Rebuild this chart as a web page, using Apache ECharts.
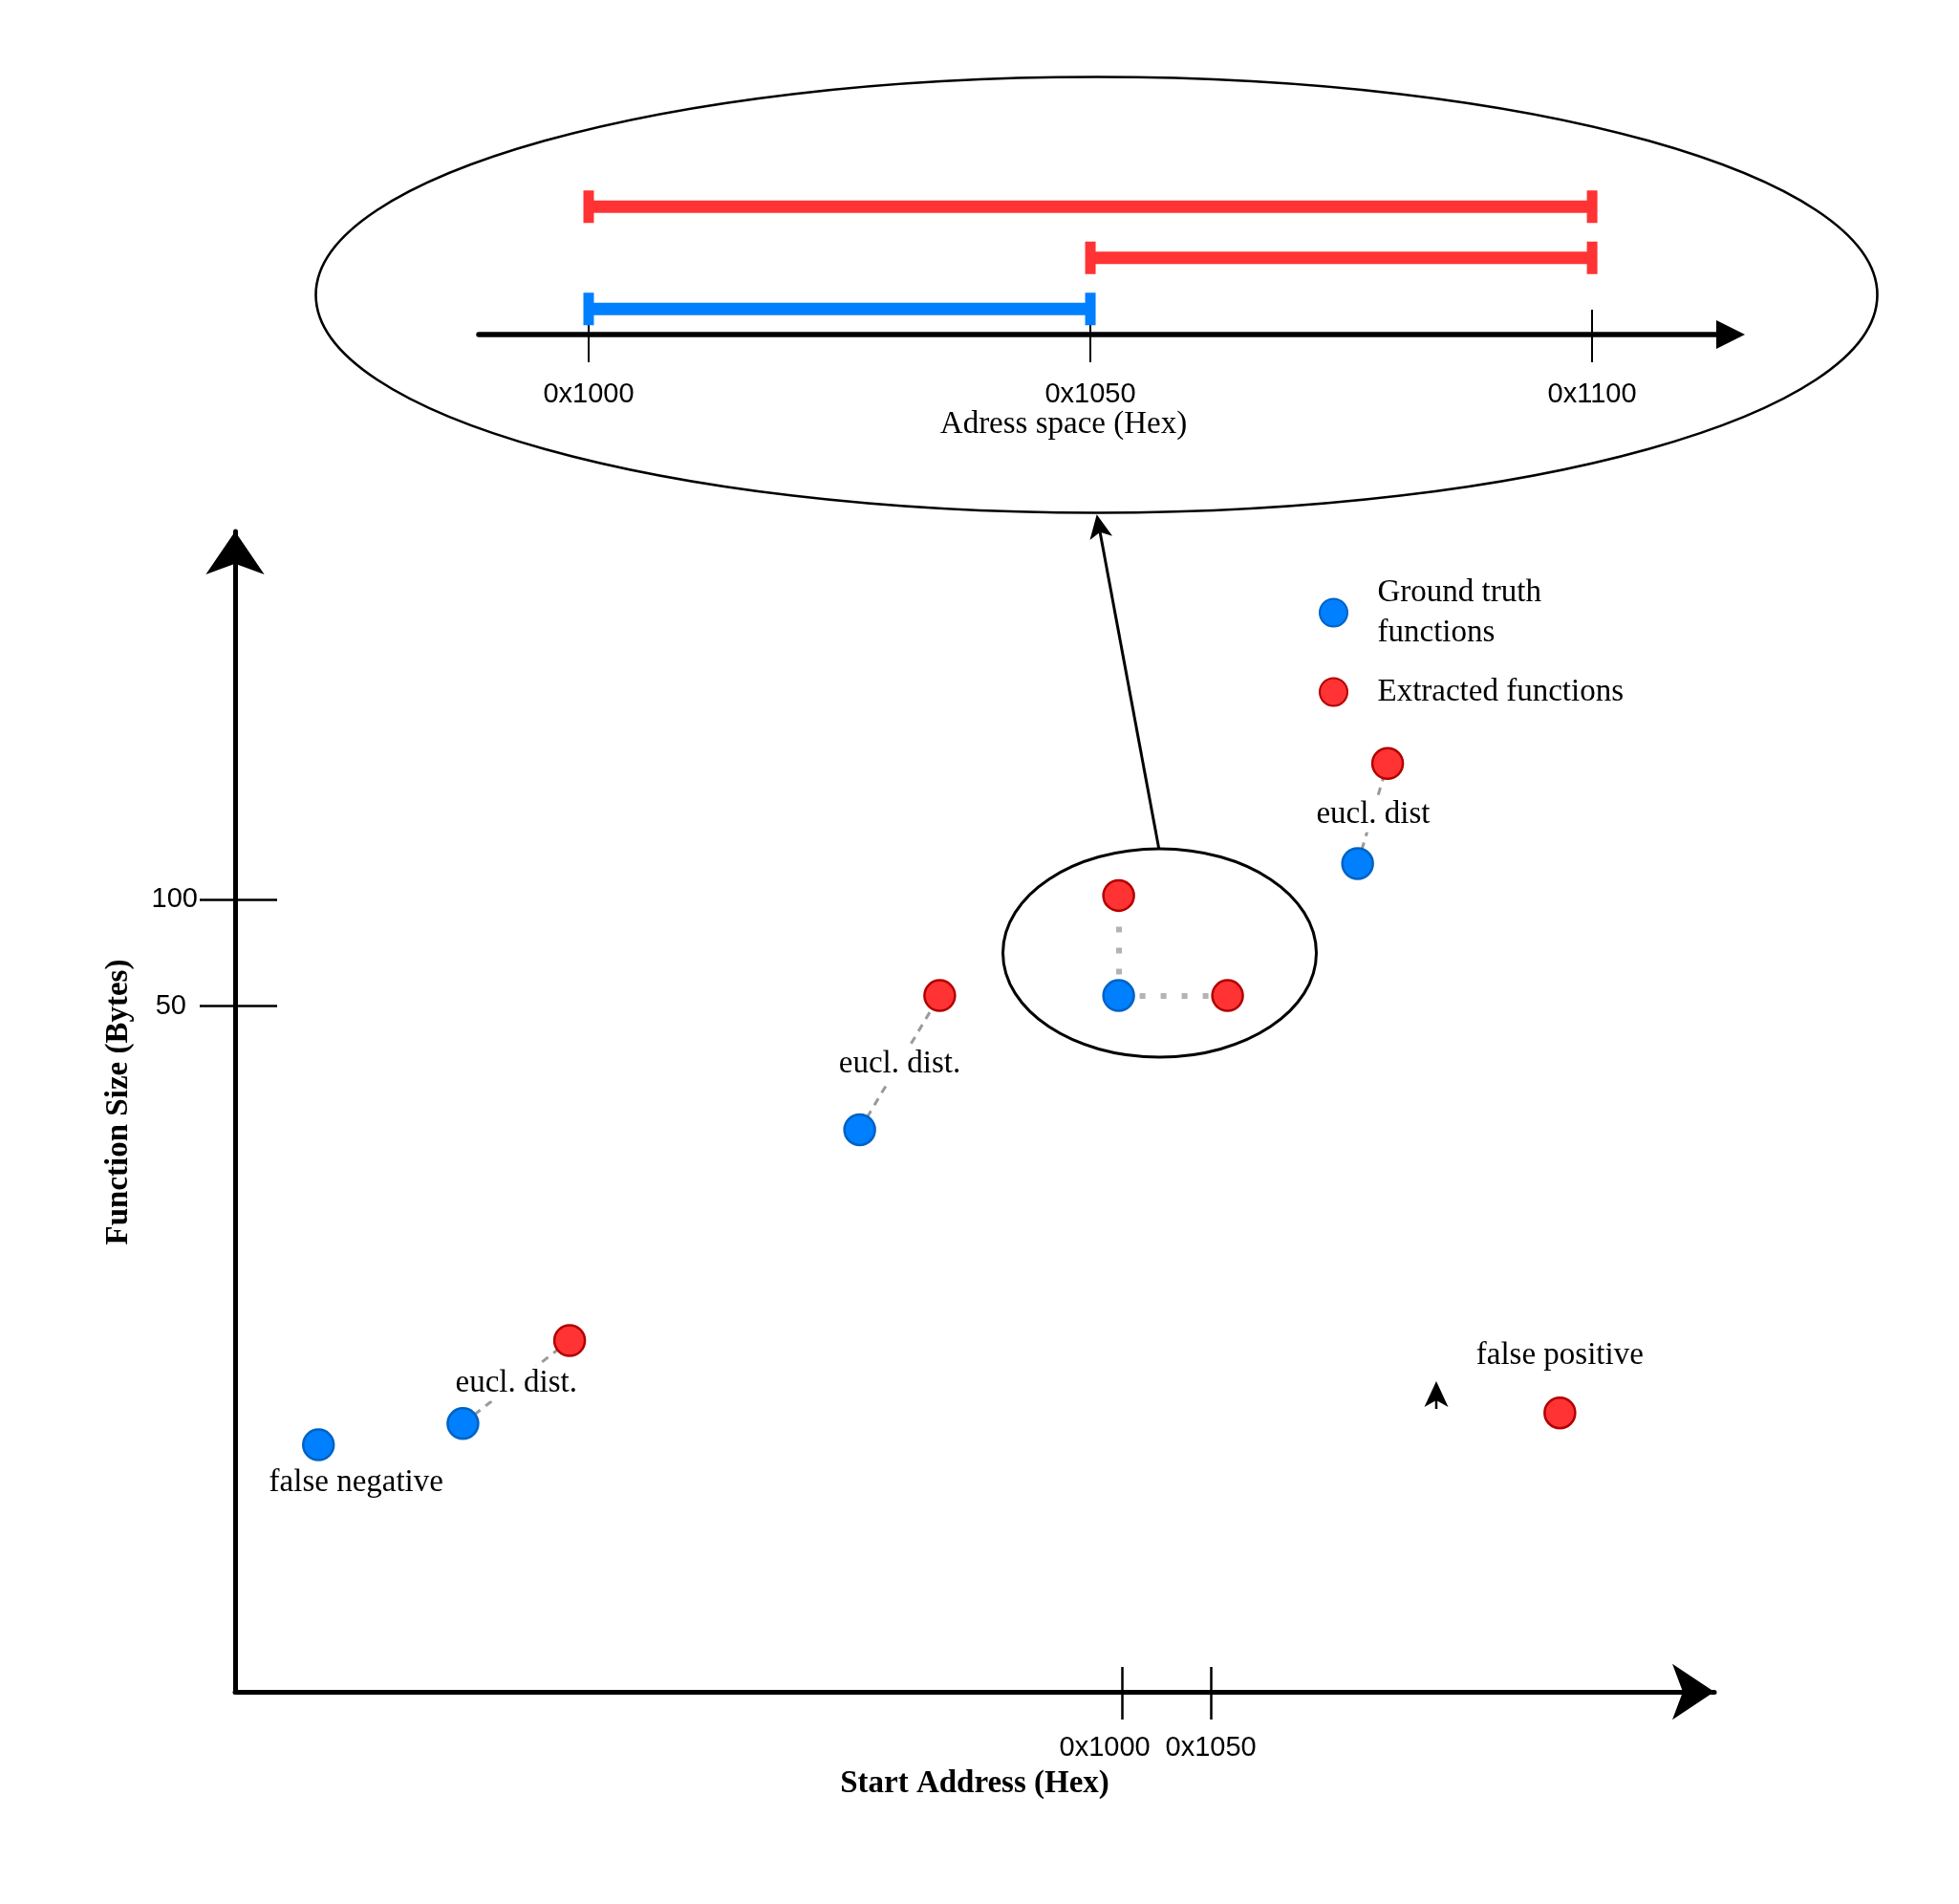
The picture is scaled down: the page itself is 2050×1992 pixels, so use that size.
<!DOCTYPE html>
<html>
<head>
<meta charset="utf-8">
<title>Function matching sketch</title>
<script src="https://cdn.jsdelivr.net/npm/echarts@6/dist/echarts.min.js"></script>
<style>
  html, body { margin: 0; padding: 0; background: #fff; }
  #chart { width: 2050px; height: 1992px; }
</style>
</head>
<body>
<div id="chart"></div>
<script>
// main plot: start address (hex read as decimal) vs function size (bytes)
const xTickValues = [4096, 4176];
const xTickLabels = ['0x1000', '0x1050'];
const yTickValues = [50, 100];
const yTickLabels = ['50', '100'];

const truthStart = [3373, 3503, 3860, 4093, 4308];
const truthSize = [-156, -146, -8, 55, 117];
const extractedStart = [3599, 3932, 4093, 4191, 4335, 4490];
const extractedSize = [-107, 55, 102, 55, 164, -141];

// [truth index, extracted index, line kind]
const distPairs = [[1, 0, 'dashed'], [2, 1, 'dashed'], [3, 2, 'dotted'], [3, 3, 'dotted'], [4, 4, 'dashed']];

const noteText = ['false negative', 'eucl. dist.', 'eucl. dist.', 'eucl. dist', 'false positive'];
const noteX = [3407, 3551, 3896, 4322, 4490];
const noteY = [-174, -127, 23, 140, -114];

// zoomed inset: address ranges on the address space axis
const spaceLabels = ['0x1000', '0x1050', '0x1100'];
const truthRanges = [['0x1000', '0x1050']];
const truthRows = [1];
const extractedRanges = [['0x1050', '0x1100'], ['0x1000', '0x1100']];
const extractedRows = [2, 3];

const BLUE = '#007fff', BLUE_EDGE = '#0062c4';
const RED = '#ff3333', RED_EDGE = '#b20000';
const SERIF = 'Liberation Serif';
const SANS = 'Liberation Sans';

const chart = echarts.init(document.getElementById('chart'));

function rangeData(ranges, rows) {
    return ranges.map((r, i) => [spaceLabels.indexOf(r[0]), spaceLabels.indexOf(r[1]), rows[i]]);
}

function renderRange(params, api) {
    const a = api.coord([api.value(0), api.value(2)]);
    const b = api.coord([api.value(1), api.value(2)]);
    const color = api.visual('color');
    return {
        type: 'group',
        children: [
            { type: 'rect', shape: { x: a[0], y: a[1] - 6.5, width: b[0] - a[0], height: 13 }, style: { fill: color } },
            { type: 'rect', shape: { x: a[0] - 5.5, y: a[1] - 17, width: 11, height: 34 }, style: { fill: color } },
            { type: 'rect', shape: { x: b[0] - 5.5, y: b[1] - 17, width: 11, height: 34 }, style: { fill: color } }
        ]
    };
}

const distLines = distPairs.map(p => ({
    coords: [[truthStart[p[0]], truthSize[p[0]]], [extractedStart[p[1]], extractedSize[p[1]]]],
    lineStyle: p[2] === 'dotted'
        ? { color: '#b3b3b3', width: 6, type: [6, 16], cap: 'butt', opacity: 1 }
        : { color: '#9a9a9a', width: 3, type: [8, 7], opacity: 1 }
}));

// connector arrow from the small ellipse up to the inset
const from = [1212.7, 887.7], tip = [1147.7, 538.3];
const len = Math.hypot(tip[0] - from[0], tip[1] - from[1]);
const d = [(tip[0] - from[0]) / len, (tip[1] - from[1]) / len];
const n = [-d[1], d[0]];
const L = 25, W = 12;
const head = [
    tip,
    [tip[0] - d[0] * L + n[0] * W, tip[1] - d[1] * L + n[1] * W],
    [tip[0] - d[0] * L * 0.75, tip[1] - d[1] * L * 0.75],
    [tip[0] - d[0] * L - n[0] * W, tip[1] - d[1] * L - n[1] * W]
];

const tickFont = { fontFamily: SANS, fontSize: 29, color: '#000' };

const option = {
    animation: false,
    backgroundColor: '#fff',
    grid: [
        { left: 246, right: 256, top: 556, bottom: 222, outerBoundsMode: 'none' },
        { left: 501, right: 239, top: 189.5, bottom: 1642, outerBoundsMode: 'none' }
    ],
    legend: {
        data: ['Ground truth functions', 'Extracted functions'],
        orient: 'vertical',
        left: 1380,
        top: 599,
        padding: 0,
        itemGap: 20,
        itemWidth: 82,
        itemHeight: 29,
        icon: 'circle',
        selectedMode: false,
        formatter: name => name === 'Ground truth functions' ? 'Ground truth\nfunctions' : name,
        textStyle: { fontFamily: SERIF, fontSize: 33, lineHeight: 42, color: '#000' }
    },
    xAxis: [
        {
            type: 'value', gridIndex: 0, min: 3298, max: 4629, position: 'bottom',
            name: 'Start Address (Hex)', nameLocation: 'middle', nameGap: 80,
            nameTextStyle: { fontFamily: SERIF, fontSize: 33, fontWeight: 'bold', color: '#000' },
            axisLine: { onZero: false, lineStyle: { color: '#000', width: 5 }, symbol: ['none', 'arrow'], symbolSize: [44, 44] },
            axisTick: { show: true, length: 29, customValues: xTickValues, lineStyle: { color: '#000', width: 2.5 } },
            axisLabel: {
                show: true, margin: 44, customValues: xTickValues, ...tickFont,
                formatter: v => {
                    const i = xTickValues.indexOf(v);
                    return i === 0 ? '{s|' + xTickLabels[i] + '}' : xTickLabels[i];
                },
                rich: { s: { ...tickFont, padding: [0, 36, 0, 0] } }
            },
            splitLine: { show: false }
        },
        {
            type: 'value', gridIndex: 0, min: 3298, max: 4629, position: 'bottom', offset: 0,
            axisLine: { show: false, onZero: false },
            axisTick: { show: true, inside: true, length: 26, customValues: xTickValues, lineStyle: { color: '#000', width: 2.5 } },
            axisLabel: { show: false },
            splitLine: { show: false }
        },
        {
            type: 'value', gridIndex: 1, min: -0.219, max: 2.276, position: 'bottom',
            name: 'Adress space (Hex)', nameLocation: 'middle', nameGap: 75,
            nameTextStyle: { fontFamily: SERIF, fontSize: 33, color: '#000', padding: [0, 86, 0, 0] },
            axisLine: { onZero: false, lineStyle: { color: '#000', width: 5.5 }, symbol: ['none', 'triangle'], symbolSize: [30, 30] },
            axisTick: { show: true, length: 29, customValues: [0, 1, 2], lineStyle: { color: '#000', width: 2 } },
            axisLabel: { show: true, margin: 48, customValues: [0, 1, 2], ...tickFont, formatter: v => spaceLabels[Math.round(v)] },
            splitLine: { show: false }
        },
        {
            type: 'value', gridIndex: 1, min: -0.219, max: 2.276, position: 'bottom', offset: 0,
            axisLine: { show: false, onZero: false },
            axisTick: { show: true, inside: true, length: 26, customValues: [0, 1, 2], lineStyle: { color: '#000', width: 2 } },
            axisLabel: { show: false },
            splitLine: { show: false }
        }
    ],
    yAxis: [
        {
            type: 'value', gridIndex: 0, min: -272, max: 273, position: 'left',
            name: 'Function Size (Bytes)', nameLocation: 'middle', nameGap: 105, nameMoveOverlap: false,
            nameTextStyle: { fontFamily: SERIF, fontSize: 33, fontWeight: 'bold', color: '#000', padding: [0, 0, 0, 20] },
            axisLine: { onZero: false, lineStyle: { color: '#000', width: 5 }, symbol: ['none', 'arrow'], symbolSize: [46, 45] },
            axisTick: { show: true, length: 37, customValues: yTickValues, lineStyle: { color: '#000', width: 2.5 } },
            axisLabel: {
                show: true, margin: 39, customValues: yTickValues, ...tickFont,
                formatter: v => {
                    const i = yTickValues.indexOf(v);
                    return i === 0 ? '{s|' + yTickLabels[i] + '}' : yTickLabels[i];
                },
                rich: { s: { ...tickFont, padding: [0, 12, 0, 0] } }
            },
            splitLine: { show: false }
        },
        {
            type: 'value', gridIndex: 0, min: -272, max: 273, position: 'left', offset: 0,
            axisLine: { show: false, onZero: false },
            axisTick: { show: true, inside: true, length: 44, customValues: yTickValues, lineStyle: { color: '#000', width: 2.5 } },
            axisLabel: { show: false },
            splitLine: { show: false }
        },
        {
            type: 'value', gridIndex: 1, min: 0.5, max: 3.5, show: false,
            axisLine: { onZero: false }
        }
    ],
    series: [
        {
            type: 'lines', coordinateSystem: 'cartesian2d', xAxisIndex: 0, yAxisIndex: 0,
            z: 1, silent: true, data: distLines
        },
        {
            name: 'notes', type: 'scatter', xAxisIndex: 0, yAxisIndex: 0, z: 2, silent: true,
            symbolSize: 1, itemStyle: { color: 'transparent', opacity: 1 },
            data: noteText.map((t, i) => ({ name: t, value: [noteX[i], noteY[i]] })),
            label: {
                show: true, position: 'inside', formatter: p => p.name,
                fontFamily: SERIF, fontSize: 33, color: '#000', opacity: 1,
                backgroundColor: '#fff', padding: [2, 4]
            }
        },
        {
            name: 'Ground truth functions', type: 'scatter', xAxisIndex: 0, yAxisIndex: 0, z: 3,
            symbolSize: 32,
            itemStyle: { color: BLUE, borderColor: BLUE_EDGE, borderWidth: 2.5, opacity: 1 },
            data: truthStart.map((x, i) => [x, truthSize[i]])
        },
        {
            name: 'Extracted functions', type: 'scatter', xAxisIndex: 0, yAxisIndex: 0, z: 3,
            symbolSize: 32,
            itemStyle: { color: RED, borderColor: RED_EDGE, borderWidth: 2.5, opacity: 1 },
            data: extractedStart.map((x, i) => [x, extractedSize[i]])
        },
        {
            type: 'custom', xAxisIndex: 2, yAxisIndex: 2, renderItem: renderRange,
            itemStyle: { color: BLUE }, encode: { x: [0, 1], y: 2 },
            data: rangeData(truthRanges, truthRows)
        },
        {
            type: 'custom', xAxisIndex: 2, yAxisIndex: 2, renderItem: renderRange,
            itemStyle: { color: RED }, encode: { x: [0, 1], y: 2 },
            data: rangeData(extractedRanges, extractedRows)
        }
    ],
    graphic: [
        { type: 'ellipse', shape: { cx: 1147.5, cy: 308.5, rx: 817, ry: 228 }, style: { fill: 'none', stroke: '#000', lineWidth: 2.6 } },
        { type: 'ellipse', shape: { cx: 1213.5, cy: 997, rx: 164, ry: 109 }, style: { fill: 'none', stroke: '#000', lineWidth: 3 } },
        { type: 'line', shape: { x1: from[0], y1: from[1], x2: head[2][0], y2: head[2][1] }, style: { stroke: '#000', lineWidth: 3 } },
        { type: 'polygon', shape: { points: head }, style: { fill: '#000' } },
        { type: 'polygon', shape: { points: [[1503, 1445], [1515.5, 1472], [1503, 1465], [1490.5, 1472]] }, style: { fill: '#000' } },
        { type: 'line', shape: { x1: 1503, y1: 1463, x2: 1503, y2: 1474 }, style: { stroke: '#000', lineWidth: 2.5 } }
    ]
};

chart.setOption(option);
</script>
</body>
</html>
